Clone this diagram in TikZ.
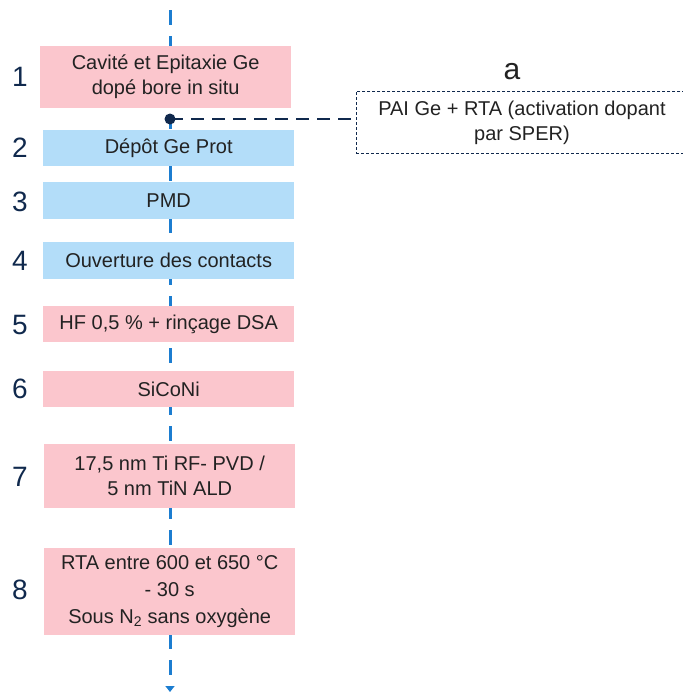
\documentclass[tikz,border=0pt]{standalone}
\usepackage{fontspec}
\setmainfont{Liberation Sans}
\usetikzlibrary{arrows.meta}
\definecolor{pinkfill}{HTML}{FBC6CD}
\definecolor{bluefill}{HTML}{B3DDF9}
\definecolor{flowblue}{HTML}{1C7DD0}
\definecolor{navy}{HTML}{10294D}
\definecolor{txt}{HTML}{222222}
\begin{document}
\begin{tikzpicture}[x=1pt,y=-1pt,
  stepbox/.style={minimum width=251pt,inner sep=0pt,align=center,font=\fontsize{20}{25}\selectfont,text=txt,anchor=north west},
  pinkbox/.style={stepbox,fill=pinkfill},
  bluebox/.style={stepbox,fill=bluefill},
  num/.style={font=\fontsize{28}{30}\selectfont,text=navy}]
\useasboundingbox (0,0) rectangle (683,694);
\coordinate (top) at (170,10);
\coordinate (bot) at (170,692);
\draw[flowblue,line width=3pt,dash pattern=on 15pt off 11pt,-{Triangle[length=6pt,width=9pt]}] (top) -- (bot);
\node[pinkbox,minimum height=62pt] (s1) at (40,46) {Cavité et Epitaxie Ge\\dopé bore in situ};
\node[bluebox,minimum height=36pt] (s2) at (43,130) {Dépôt Ge Prot};
\node[bluebox,minimum height=37pt] (s3) at (43,182) {PMD};
\node[bluebox,minimum height=37pt] (s4) at (43,242) {Ouverture des contacts};
\node[pinkbox,minimum height=36pt] (s5) at (43,306) {HF 0,5 \% + rinçage DSA};
\node[pinkbox,minimum height=36pt] (s6) at (43,371) {SiCoNi};
\node[pinkbox,minimum height=64pt] (s7) at (44,444) {17,5 nm Ti RF- PVD /\\5 nm TiN ALD};
\node[pinkbox,minimum height=87pt,font=\fontsize{20}{27}\selectfont] (s8) at (44,548) {RTA entre 600 et 650 °C\\- 30 s\\Sous N\textsubscript{2} sans oxygène};
\node[num] (n1) at (20,77) {1};
\node[num] (n2) at (20,148) {2};
\node[num] (n3) at (20,202) {3};
\node[num] (n4) at (20,261) {4};
\node[num] (n5) at (20,325) {5};
\node[num] (n6) at (20,389) {6};
\node[num] (n7) at (20,477) {7};
\node[num] (n8) at (20,590) {8};
\coordinate (dot) at (170,119);
\node[draw=navy,dash pattern=on 3pt off 2pt,line width=0.9pt,minimum width=331pt,minimum height=62pt,anchor=north west,align=center,font=\fontsize{20}{25}\selectfont,text=txt,inner sep=0pt] (a) at (356,91) {PAI Ge + RTA (activation dopant\\par SPER)};
\node[font=\fontsize{30}{32}\selectfont,text=txt] (alab) at (512,72) {a};
\draw[navy,line width=2.4pt,dash pattern=on 13pt off 8pt] (dot) -- (a.west |- dot);
\fill[navy] (dot) circle (5.5pt);
\end{tikzpicture}
\end{document}
